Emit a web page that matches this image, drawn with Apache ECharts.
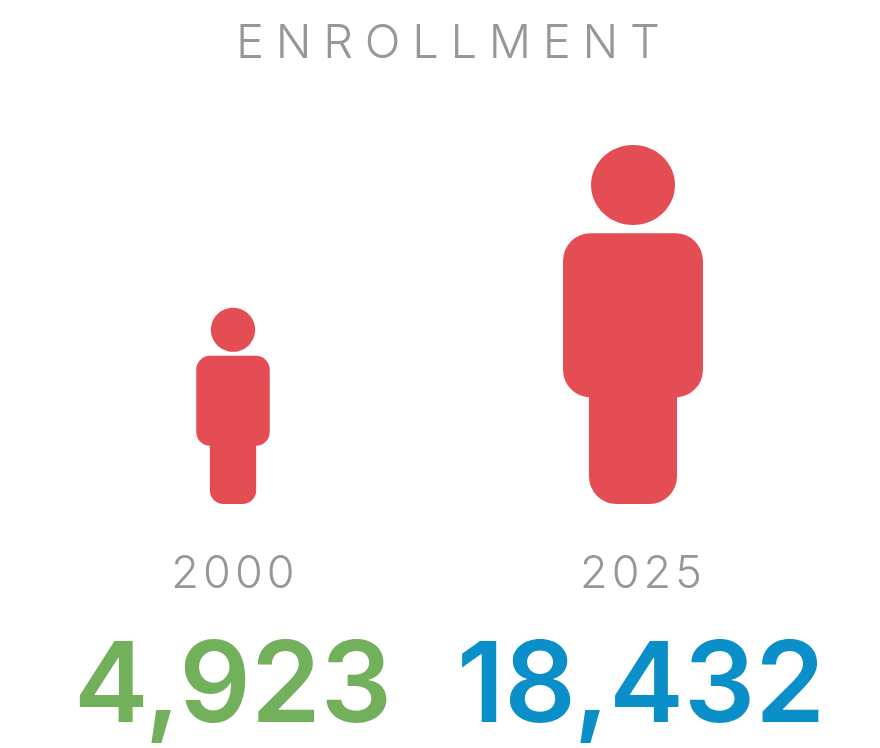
<!DOCTYPE html>
<html>
<head>
<meta charset="utf-8">
<style>html,body{margin:0;background:#fff}#main{width:880px;height:748px}</style>
<script src="https://cdn.jsdelivr.net/npm/echarts@6/dist/echarts.min.js"></script>
</head>
<body>
<div id="main"></div>
<script>
var years = ['2000', '2025'];
var enrollment = [4923, 18432];
var valueLabels = ['4,923', '18,432'];
var chartTitle = 'E\u2005N\u2005R\u2005O\u2005L\u2005L\u2005M\u2005E\u2005N\u2005T';

var RED = '#e44d54';
var FONT = 'Inter';
var axisMin = 1000;
var figureShift = [0, -8];

// figure height comes from the log axis, body parts scale from that height
function renderFigure(params, api) {
	var i = api.value(0);
	var top = api.coord([i, api.value(1)]);
	var base = api.coord([i, axisMin]);
	var h = base[1] - top[1];
	var cx = top[0] + figureShift[i];
	var bodyW = 0.4085 * h - 6.7;
	var legW = 0.256 * h - 3.9;
	var headRx = 0.122 * h - 1.8;
	var headRy = 0.11 * h + 0.5;
	var bodyTop = top[1] + 0.2455 * h;
	var bodyH = 0.4575 * h;
	var r = 0.085 * h - 3;
	return {
		type: 'group',
		children: [{
			type: 'ellipse',
			shape: { cx: cx, cy: top[1] + headRy, rx: headRx, ry: headRy },
			style: { fill: RED }
		}, {
			type: 'rect',
			shape: { x: cx - bodyW / 2, y: bodyTop, width: bodyW, height: bodyH, r: r },
			style: { fill: RED }
		}, {
			type: 'rect',
			shape: { x: cx - legW / 2, y: bodyTop + bodyH - r * 2, width: legW, height: base[1] - bodyTop - bodyH + r * 2, r: r },
			style: { fill: RED }
		}]
	};
}

var myChart = echarts.init(document.getElementById('main'));
myChart.setOption({
	backgroundColor: '#fff',
	animation: false,
	title: {
		text: chartTitle,
		left: 231,
		top: 15,
		textStyle: { color: '#97979b', fontFamily: FONT, fontWeight: 300, fontSize: 47 }
	},
	grid: { left: 29, right: 35, top: 135, height: 369 },
	xAxis: {
		type: 'category',
		data: years,
		axisLine: { show: false },
		axisTick: { show: false },
		axisLabel: {
			margin: 64,
			interval: 0,
			formatter: function(value, index) {
				return '{year|' + value.split('').join('\u200a') + '}\n{v' + index + '|' + valueLabels[index] + '}';
			},
			rich: {
				year: { color: '#97979b', fontFamily: FONT, fontWeight: 300, fontSize: 45, lineHeight: 60, padding: [0, 0, 48, 0] },
				v0: { color: '#73b05c', fontFamily: FONT, fontWeight: 600, fontSize: 112, lineHeight: 120 },
				v1: { color: '#0a8fc8', fontFamily: FONT, fontWeight: 600, fontSize: 112, lineHeight: 120 }
			}
		}
	},
	yAxis: {
		type: 'log',
		min: axisMin,
		max: 20000,
		show: false
	},
	series: [{
		type: 'custom',
		renderItem: renderFigure,
		encode: { x: 0, y: 1 },
		data: enrollment.map(function(v, i) { return [i, v]; })
	}]
});
</script>
</body>
</html>
